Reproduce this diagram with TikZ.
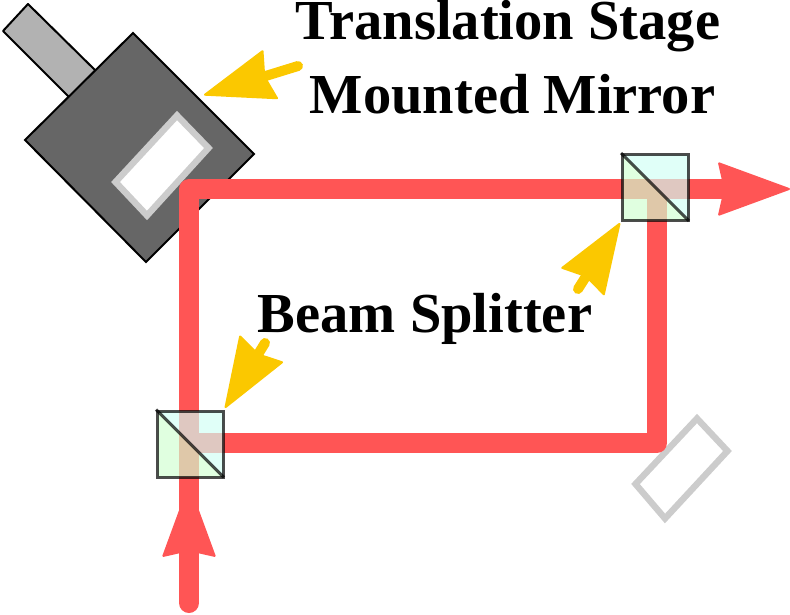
\documentclass[tikz,border=0pt]{standalone}
\usepackage{fontspec}
\setmainfont{Liberation Serif}
\usetikzlibrary{arrows.meta}
\definecolor{beamred}{HTML}{FF5555}
\definecolor{pointeryellow}{HTML}{FBC800}
\definecolor{cubegreen}{HTML}{D1FFD1}
\definecolor{cubecyan}{HTML}{D1FFF5}
\tikzset{
  beam/.style={line width=20pt, draw=beamred, line join=round, line cap=round},
  beamhead/.style={-{Stealth[length=74pt, width=54pt, inset=6pt, line width=2pt, round]}},
  pointer/.style={line width=10pt, draw=pointeryellow, line cap=round,
    -{Stealth[length=72pt, width=52pt, inset=6pt, line width=2pt, round]}},
  mirror/.style={draw=black!20, line width=6.4pt, miter limit=4},
  splitter/.style={rectangle, minimum size=66pt, inner sep=0pt, draw=black, draw opacity=.7, line width=3pt,
    path picture={
      \fill[cubegreen, fill opacity=.68] (path picture bounding box.north west) -- (path picture bounding box.south east) -- (path picture bounding box.south west) -- cycle;
      \fill[cubecyan, fill opacity=.68] (path picture bounding box.north west) -- (path picture bounding box.south east) -- (path picture bounding box.north east) -- cycle;
    }},
  splitline/.style={draw=black, draw opacity=.7, line width=3pt, shorten >=1.5pt},
  caption/.style={font=\fontsize{56.5}{57}\selectfont\bfseries, inner sep=0pt, anchor=base}
}
\begin{document}
\begin{tikzpicture}[x=1pt, y=-1pt]
  \useasboundingbox (0,0) rectangle (790,614);
  % translation stage
  \draw[fill=black!30, line width=2pt, line join=round] (28,4) -- (3,31) -- (70,98) -- (96,71) -- cycle;
  \draw[fill=black!60, line width=2pt] (133,33) -- (254,154) -- (146,262) -- (25,140) -- cycle;
  \draw[mirror, fill=white] (177,115.5) -- (208.5,148) -- (147,215.5) -- (115.5,182) -- cycle;
  \draw[mirror, fill=white] (697,418.5) -- (727.5,451) -- (665,518.5) -- (635.5,484) -- cycle;

  \coordinate (in) at (189,603);
  \coordinate (headin) at (189,485);
  \coordinate (shaftin) at (189,522);
  \coordinate (cornera) at (189,189);
  \coordinate (out) at (790,189);
  \coordinate (bsaC) at (189,443);
  \coordinate (cornerb) at (657,443);
  \coordinate (bsbC) at (657,189);
  \draw[beam, beamhead] (in) -- (headin);
  \draw[beam, beamhead, line cap=butt] (shaftin) -- (cornera) -- (out);
  \draw[beam] (bsaC) -- (cornerb) -- (bsbC);

  \node[splitter] (bsa) at (190.5,444) {};
  \node[splitter] (bsb) at (655.5,187.5) {};
  \draw[splitline] (bsa.north west) -- (bsa.south east);
  \draw[splitline] (bsb.north west) -- (bsb.south east);

  \node[caption] (stagetext) at (508,39) {Translation Stage};
  \node[caption] (mirrortext) at (512.5,113) {Mounted Mirror};
  \node[caption] (splittertext) at (425,332) {Beam Splitter};

  \coordinate (stagetail) at (298,66);
  \coordinate (stagetip) at (204,95);
  \coordinate (bsbtail) at (578,289);
  \coordinate (bsbtip) at (620,223);
  \coordinate (bsatail) at (265,343);
  \coordinate (bsatip) at (225,408);
  \draw[pointer] (stagetail) -- (stagetip);
  \draw[pointer] (bsbtail) -- (bsbtip);
  \draw[pointer] (bsatail) -- (bsatip);
\end{tikzpicture}
\end{document}
